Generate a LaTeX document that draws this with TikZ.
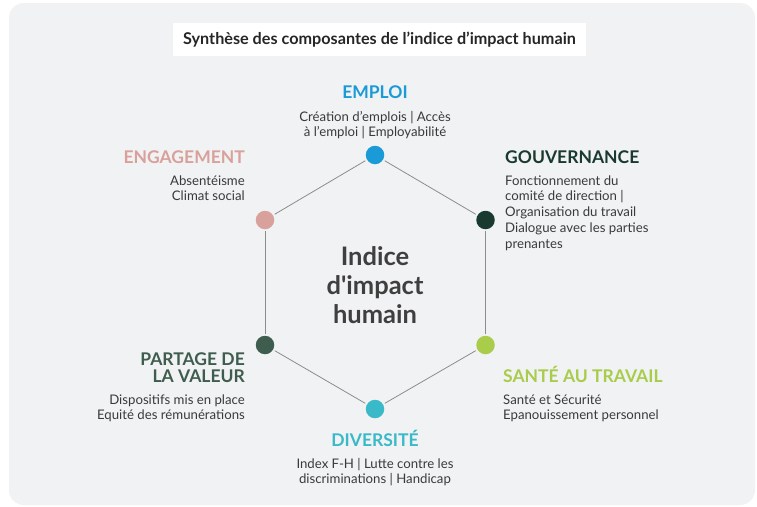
\documentclass[tikz,border=0pt]{standalone}
\usepackage{fontspec}
\setmainfont{Lato}
\newfontfamily\latoplain{Lato}[Ligatures=ResetAll]
\definecolor{bgc}{HTML}{F1F2F4}
\definecolor{emploic}{HTML}{1A9AD6}
\definecolor{gouvc}{HTML}{1B3A2F}
\definecolor{santec}{HTML}{A9CC4B}
\definecolor{diverc}{HTML}{3AB9C9}
\definecolor{partc}{HTML}{3F5D4F}
\definecolor{engc}{HTML}{D9A19B}
\definecolor{bodyc}{HTML}{3A3A3A}
\definecolor{titlec}{HTML}{262626}
\definecolor{centerc}{HTML}{3F3F3F}
\definecolor{edgec}{HTML}{8C8C8C}
\newcommand{\Lcol}[1]{\begin{tabular}[t]{@{}l@{}}#1\end{tabular}}
\newcommand{\Rcol}[1]{\begin{tabular}[t]{@{}r@{}}#1\end{tabular}}
\newcommand{\Ccol}[1]{\begin{tabular}[t]{@{}c@{}}#1\end{tabular}}
\tikzset{
  dot/.style={circle, minimum size=18.5pt, inner sep=0pt, outer sep=2pt},
  edge/.style={draw=edgec, line width=0.8pt},
  head/.style={inner sep=0pt, font=\fontsize{17.5}{16.7}\selectfont\bfseries},
  body/.style={inner sep=0pt, text=bodyc, font=\fontsize{13.2}{15.5}\selectfont},
}
\begin{document}
\begin{tikzpicture}[x=1pt,y=-1pt]
\useasboundingbox (0,0) rectangle (757,506);
\fill[white] (0,0) rectangle (757,506);
\fill[bgc, rounded corners=15pt] (9,3) rectangle (755,505);
% title
\node[fill=white, minimum width=413pt, minimum height=33pt, inner sep=0pt,
      text=titlec, font=\fontsize{16.2}{18}\selectfont\bfseries] (title) at (379.5,39.5)
  {Synthèse des composantes de l’indice d’impact humain};
% dots
\node[dot, fill=emploic] (emploi) at (375,155) {};
\node[dot, fill=gouvc]   (gouv)   at (485.5,220) {};
\node[dot, fill=santec]  (sante)  at (485.5,345) {};
\node[dot, fill=diverc]  (diver)  at (375,409) {};
\node[dot, fill=partc]   (part)   at (265,345) {};
\node[dot, fill=engc]    (eng)    at (265,220) {};
% hexagon
\draw[edge] (emploi) -- (gouv);
\draw[edge] (gouv) -- (sante);
\draw[edge] (sante) -- (diver);
\draw[edge] (diver) -- (part);
\draw[edge] (part) -- (eng);
\draw[edge] (eng) -- (emploi);
% centre
\node[inner sep=0pt, anchor=base, text=centerc, font=\latoplain\fontsize{25.5}{29}\selectfont\bfseries] (centre) at (375,265)
  {\Ccol{Indice\\d'impact\\humain}};
% EMPLOI
\node[head, anchor=base, text=emploic] (emploiH) at (375,98) {EMPLOI};
\node[body, anchor=base] (emploiB) at (375,121) {\Ccol{Création d’emplois | Accès\\à l’emploi | Employabilité}};
% ENGAGEMENT
\node[head, anchor=base east, text=engc] (engH) at (245,163) {ENGAGEMENT};
\node[body, anchor=base east] (engB) at (245,185) {\Rcol{Absentéisme\\Climat social}};
% GOUVERNANCE
\node[head, anchor=base west, text=gouvc] (gouvH) at (505,163) {GOUVERNANCE};
\node[body, anchor=base west, font=\fontsize{13.2}{15.8}\selectfont] (gouvB) at (505,185)
  {\Lcol{Fonctionnement du\\comité de direction |\\Organisation du travail\\Dialogue avec les parties\\prenantes}};
% PARTAGE
\node[head, anchor=base east, text=partc] (partH) at (245,365) {\Rcol{PARTAGE DE\\LA VALEUR}};
\node[body, anchor=base east] (partB) at (245,404) {\Rcol{Dispositifs mis en place\\Equité des rémunérations}};
% SANTE
\node[head, anchor=base west, text=santec] (santeH) at (503,382) {SANTÉ AU TRAVAIL};
\node[body, anchor=base west] (santeB) at (503,404) {\Lcol{Santé et Sécurité\\Epanouissement personnel}};
% DIVERSITE
\node[head, anchor=base, text=diverc] (diverH) at (375,446) {DIVERSITÉ};
\node[body, anchor=base] (diverB) at (375,468) {\Ccol{Index F-H | Lutte contre les\\discriminations | Handicap}};
\end{tikzpicture}
\end{document}
